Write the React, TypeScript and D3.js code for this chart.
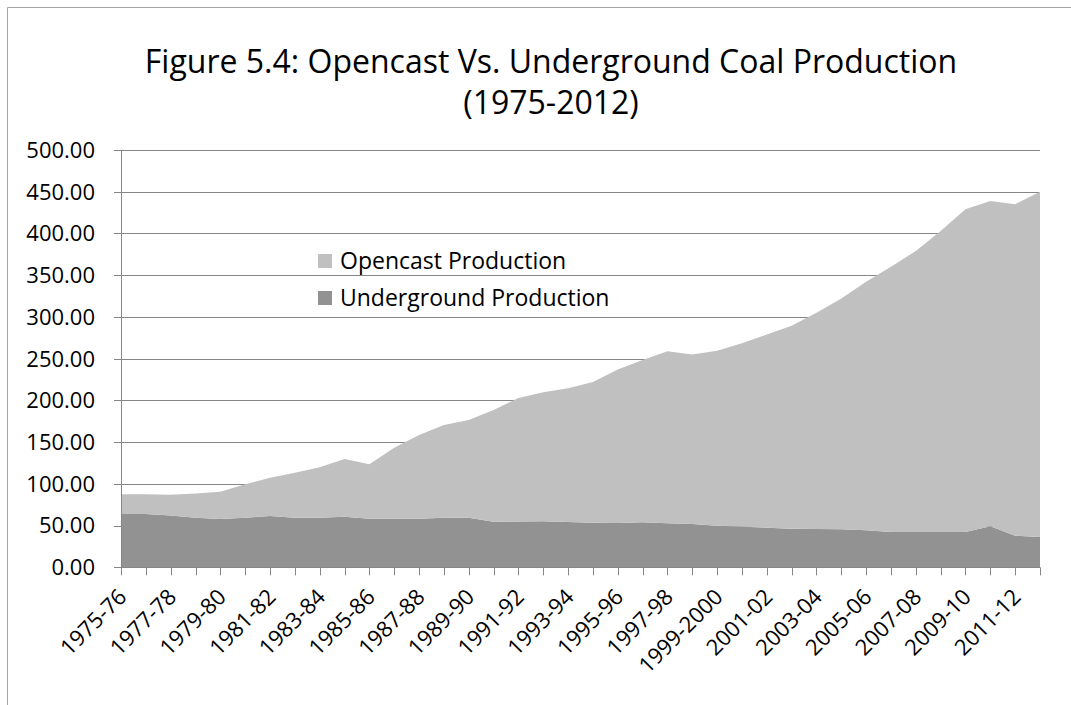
import React from "react";
import * as d3 from "d3";

const categories: string[] = [
  "1975-76", "1976-77", "1977-78", "1978-79", "1979-80", "1980-81", "1981-82", "1982-83",
  "1983-84", "1984-85", "1985-86", "1986-87", "1987-88", "1988-89", "1989-90", "1990-91",
  "1991-92", "1992-93", "1993-94", "1994-95", "1995-96", "1996-97", "1997-98", "1998-99",
  "1999-2000", "2000-01", "2001-02", "2002-03", "2003-04", "2004-05", "2005-06", "2006-07",
  "2007-08", "2008-09", "2009-10", "2010-11", "2011-12", "2012-13",
];

const underground: number[] = [
  64, 64, 62, 59.5, 58, 59.5, 61.5, 59.5, 59.5, 60.5, 58.3, 58.3, 58.3, 59.5, 59.5, 54.7,
  54.9, 55.3, 54.3, 53.5, 53.1, 53.9, 52.7, 51.9, 49.9, 48.7, 47.5, 46.3, 45.9, 45.5, 44.3,
  42.3, 42.3, 42.3, 42.3, 49.1, 37.9, 36.3,
];

const opencast: number[] = [
  23.5, 23.5, 25, 29, 32.6, 39.9, 45.9, 53.9, 60.3, 69.2, 65.1, 85, 100.2, 111, 117, 133.8,
  148.1, 154.3, 160.1, 168.5, 183.9, 194.6, 206.3, 203.1, 209.6, 219.7, 231.5, 243.2, 259.1,
  276.5, 297.7, 317.7, 336.7, 360.7, 386.7, 389.9, 397.1, 413.7,
];

const seriesNames: string[] = ["Underground Production", "Opencast Production"];
const seriesColors: string[] = ["#929292", "#c0c0c0"];
const yTicks: number[] = [0, 50, 100, 150, 200, 250, 300, 350, 400, 450, 500];
const titleLines: string[] = ["Figure 5.4: Opencast Vs. Underground Coal Production", "(1975-2012)"];

const W = 1071;
const H = 705;
const left = 121;
const right = 1040;
const top = 150;
const bottom = 567.3;
const FONT = "'Open Sans', 'Noto Sans', sans-serif";

export default function App() {
  const x = d3.scalePoint<string>().domain(categories).range([left, right]);
  const y = d3.scaleLinear().domain([0, 500]).range([bottom, top]);

  const rows = categories.map((c, i) => ({ cat: c, underground: underground[i], opencast: opencast[i] }));
  const stack = d3.stack<any>().keys(["underground", "opencast"]);
  const layers = stack(rows);
  const area = d3
    .area<any>()
    .x((d) => x(d.data.cat) as number)
    .y0((d) => y(d[0]))
    .y1((d) => y(d[1]));

  const gridColor = "#868686";

  return (
    <svg width={W} height={H} style={{ position: "absolute", left: 0, top: 0, display: "block" }} fontFamily={FONT}>
      <rect x={0} y={0} width={W} height={H} fill="#fff" />
      <path d={`M7.5,${H} L7.5,7.5 L${W},7.5`} fill="none" stroke="#a6a6a6" strokeWidth={1} />
      {titleLines.map((t, i) => (
        <text key={i} x={551} y={73 + i * 41} textAnchor="middle" fontSize={32} fill="#000">
          {t}
        </text>
      ))}
      {yTicks.map((t) => (
        <g key={t}>
          {t > 0 && <line x1={left} x2={right} y1={Math.round(y(t)) + 0.5} y2={Math.round(y(t)) + 0.5} stroke={gridColor} />}
          <line x1={left - 7} x2={left} y1={Math.round(y(t)) + 0.5} y2={Math.round(y(t)) + 0.5} stroke={gridColor} />
          <text x={95} y={y(t)} dy="0.36em" textAnchor="end" fontSize={22} fill="#000">
            {t.toFixed(2)}
          </text>
        </g>
      ))}
      {layers.map((l, i) => (
        <path key={i} d={area(l as any) || ""} fill={seriesColors[i]} />
      ))}
      <line x1={left + 0.5} x2={left + 0.5} y1={top} y2={bottom} stroke={gridColor} />
      <line x1={left} x2={right} y1={Math.round(bottom) + 0.5} y2={Math.round(bottom) + 0.5} stroke={gridColor} />
      {categories.map((c) => (
        <line key={c} x1={Math.round(x(c) as number) + 0.5} x2={Math.round(x(c) as number) + 0.5} y1={bottom} y2={bottom + 8} stroke={gridColor} />
      ))}
      {categories.map((c, i) =>
        i % 2 === 0 ? (
          <text
            key={c}
            transform={`translate(${(x(c) as number) + 7},${bottom + 31}) rotate(-45)`}
            textAnchor="end"
            fontSize={22}
            fill="#000"
          >
            {c}
          </text>
        ) : null
      )}
      {[1, 0].map((si, k) => (
        <g key={si}>
          <rect x={318} y={254 + k * 37} width={14} height={14} fill={seriesColors[si]} />
          <text x={340} y={261 + k * 37} dy="0.36em" fontSize={23} fill="#000">
            {seriesNames[si]}
          </text>
        </g>
      ))}
    </svg>
  );
}
